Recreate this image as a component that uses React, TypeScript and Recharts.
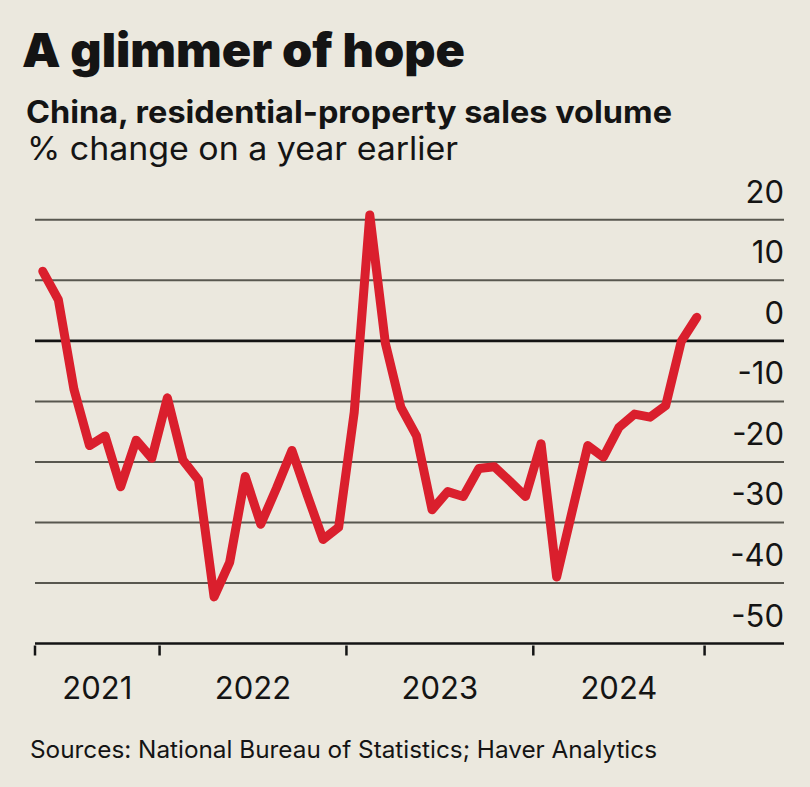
import React from "react";
import {
  LineChart,
  Line,
  XAxis,
  YAxis,
  ReferenceLine,
} from "recharts";

// Monthly data, May 2021 – Nov 2024
const months = [
  "2021-05", "2021-06", "2021-07", "2021-08", "2021-09", "2021-10", "2021-11", "2021-12",
  "2022-01", "2022-02", "2022-03", "2022-04", "2022-05", "2022-06", "2022-07", "2022-08",
  "2022-09", "2022-10", "2022-11", "2022-12",
  "2023-01", "2023-02", "2023-03", "2023-04", "2023-05", "2023-06", "2023-07", "2023-08",
  "2023-09", "2023-10", "2023-11", "2023-12",
  "2024-01", "2024-02", "2024-03", "2024-04", "2024-05", "2024-06", "2024-07", "2024-08",
  "2024-09", "2024-10", "2024-11",
];

const salesChange = [
  11.5, 6.8, -8.0, -17.3, -15.7, -24.1, -16.4, -19.4,
  -9.4, -19.7, -23.0, -42.3, -36.6, -22.4, -30.3, -24.4,
  -18.1, -25.6, -32.8, -30.8,
  -11.8, 20.8, -0.4, -11.0, -15.7, -27.9, -24.9, -25.7,
  -21.1, -20.8, -23.2, -25.7,
  -17.0, -39.0, -28.1, -17.3, -19.2, -14.3, -12.1, -12.6,
  -10.7, -0.1, 3.9,
];

const yTicks = [20, 10, 0, -10, -20, -30, -40, -50];
const yearLabels = ["2021", "2022", "2023", "2024"];
// month-index boundaries of each year segment on the axis
const yearBoundaries = [0, 8, 20, 32, 43];

const data = months.map((m, i) => ({ month: m, idx: i + 0.5, value: salesChange[i] }));

const yearMids = yearLabels.map((_, i) => (yearBoundaries[i] + yearBoundaries[i + 1]) / 2);
const xTicks = [...yearBoundaries, ...yearMids].sort((a, b) => a - b);

const FONT = "Inter, Roboto, 'Noto Sans', sans-serif";
const BG = "#ebe8de";
const RED = "#da1f2d";
const INK = "#141414";
const GRID = "#58574f";

const XTick = (props: any) => {
  const { x, y, payload } = props;
  const v = payload.value;
  const bi = yearBoundaries.indexOf(v);
  if (bi >= 0) {
    return <line x1={x} x2={x} y1={y} y2={y + 10} stroke={INK} strokeWidth={2.5} />;
  }
  const mi = yearMids.indexOf(v);
  return (
    <text x={x} y={y + 53} textAnchor="middle" fontFamily={FONT} fontSize={31} fill={INK}>
      {yearLabels[mi]}
    </text>
  );
};

const YTick = (props: any) => {
  const { x, y, payload } = props;
  return (
    <text x={x} y={y - 17} textAnchor="end" fontFamily={FONT} fontSize={31} fill={INK}>
      {payload.value}
    </text>
  );
};

export default function App() {
  return (
    <div
      style={{
        position: "absolute",
        left: 0,
        top: 0,
        width: 810,
        height: 787,
        background: BG,
        overflow: "hidden",
      }}
    >
      <svg width={810} height={787} style={{ position: "absolute", left: 0, top: 0 }}>
        <text x={22} y={67} fontFamily={FONT} fontWeight={900} fontSize={47} textLength={443} lengthAdjust="spacingAndGlyphs" fill={INK}>
          A glimmer of hope
        </text>
        <text x={26} y={123} fontFamily={FONT} fontWeight={700} fontSize={31} textLength={646} lengthAdjust="spacingAndGlyphs" fill={INK}>
          China, residential-property sales volume
        </text>
        <text x={27} y={160} fontFamily={FONT} fontWeight={400} fontSize={32} textLength={431} lengthAdjust="spacingAndGlyphs" fill={INK}>
          % change on a year earlier
        </text>
        <text x={30} y={758} fontFamily={FONT} fontWeight={400} fontSize={24} textLength={627} lengthAdjust="spacingAndGlyphs" fill={INK}>
          Sources: National Bureau of Statistics; Haver Analytics
        </text>
      </svg>
      <div style={{ position: "absolute", left: 0, top: 0 }}>
        <LineChart
          width={810}
          height={787}
          data={data}
          margin={{ top: 215, right: 0, bottom: 83.5, left: 35 }}
        >
          <XAxis
            dataKey="idx"
            type="number"
            domain={[0, 48.1]}
            ticks={xTicks}
            interval={0}
            height={60}
            tick={<XTick />}
            tickLine={false}
            tickSize={0}
            axisLine={{ stroke: INK, strokeWidth: 2.5 }}
          />
          <YAxis
            type="number"
            domain={[-50, 20]}
            ticks={yTicks}
            orientation="right"
            width={26}
            tickSize={0}
            tickMargin={0}
            axisLine={false}
            tickLine={false}
            tick={<YTick />}
            interval={0}
          />
          {yTicks
            .filter((t) => t !== 0 && t !== -50)
            .map((t) => (
              <ReferenceLine key={t} y={t} stroke={GRID} strokeWidth={2} />
            ))}
          <ReferenceLine y={0} stroke={INK} strokeWidth={2.8} />
          <Line
            type="linear"
            dataKey="value"
            stroke={RED}
            strokeWidth={9}
            dot={false}
            strokeLinejoin="round"
            strokeLinecap="round"
            isAnimationActive={false}
          />
        </LineChart>
      </div>
    </div>
  );
}
